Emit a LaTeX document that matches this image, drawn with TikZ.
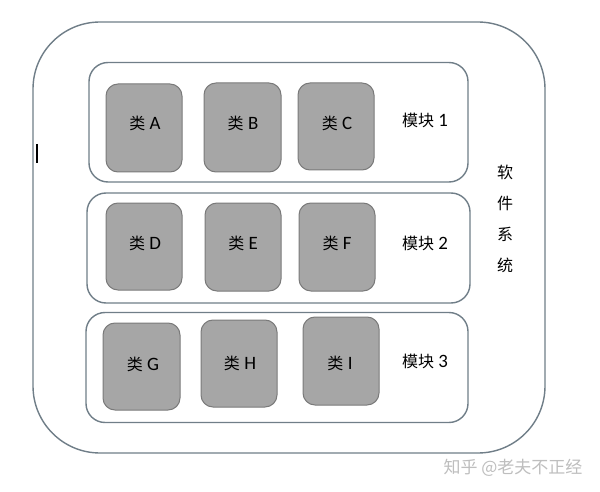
\documentclass[tikz,border=0pt]{standalone}
\usepackage{fontspec}
\setmainfont{Carlito}[Scale=1.18]
\newfontfamily\cjk{Noto Sans CJK SC}
\definecolor{edge}{RGB}{112,126,136}
\definecolor{clsfill}{RGB}{166,166,166}
\definecolor{clsedge}{RGB}{122,122,122}
\definecolor{wm}{RGB}{190,190,190}
\begin{document}
\begin{tikzpicture}[x=1pt,y=-1pt,
  outerbox/.style={draw=edge,line width=1.4pt,rounded corners=67pt,inner sep=0pt},
  modbox/.style={draw=edge,line width=1.4pt,rounded corners=19pt,inner sep=0pt},
  clsbox/.style={draw=clsedge,fill=clsfill,line width=1pt,rounded corners=12pt,inner sep=0pt,minimum width=76pt,minimum height=88pt},
  lbl/.style={font=\fontsize{16}{19}\selectfont,inner sep=0pt,text=black},
]
\useasboundingbox (0,0) rectangle (600,492);
\fill[white] (0,0) rectangle (600,492);
% outer software system
\node[outerbox,minimum width=512pt,minimum height=431pt] (sys) at (289,237.5) {};
% modules
\node[modbox,minimum width=379pt,minimum height=119.5pt] (m1) at (278.5,122.25) {};
\node[modbox,minimum width=383pt,minimum height=110pt] (m2) at (278.5,248) {};
\node[modbox,minimum width=382pt,minimum height=110pt] (m3) at (277,367.5) {};
% classes
\node[clsbox] (A) at (144,128) {};
\node[clsbox,minimum width=77pt,minimum height=89pt] (B) at (242.5,127.5) {};
\node[clsbox,minimum height=87pt] (C) at (336,126.5) {};
\node[clsbox,minimum height=87pt] (D) at (144,246.5) {};
\node[clsbox] (E) at (243,247) {};
\node[clsbox] (F) at (337,247) {};
\node[clsbox,minimum width=77pt,minimum height=87pt] (G) at (141.5,366.5) {};
\node[clsbox,minimum height=87pt] (H) at (239,363.5) {};
\node[clsbox] (I) at (341,361) {};
% class labels
\node[lbl] (tA) at (145,123) {{\cjk 类} A};
\node[lbl] (tB) at (243,123) {{\cjk 类} B};
\node[lbl] (tC) at (337,123) {{\cjk 类} C};
\node[lbl] (tD) at (145,243) {{\cjk 类} D};
\node[lbl] (tE) at (243,243) {{\cjk 类} E};
\node[lbl] (tF) at (337,243) {{\cjk 类} F};
\node[lbl] (tG) at (143,364) {{\cjk 类} G};
\node[lbl] (tH) at (240,363) {{\cjk 类} H};
\node[lbl] (tI) at (340,363) {{\cjk 类} I};
% module labels
\node[lbl] (l1) at (425,120) {{\cjk 模块} 1};
\node[lbl] (l2) at (425,243) {{\cjk 模块} 2};
\node[lbl] (l3) at (425,361) {{\cjk 模块} 3};
% system label
\node[lbl,align=center,font=\cjk\fontsize{16}{31}\selectfont] (sl) at (505,218.5) {软\\件\\系\\统};
% stray cursor mark
\coordinate (c1) at (37,144);
\coordinate (c2) at (37,163);
\draw[black,line width=1.6pt] (c1) -- (c2);
% watermark
\node[inner sep=0pt,text=wm,font=\cjk\fontsize{17}{20}\selectfont] (wmk) at (513,468) {知乎 @老夫不正经};
\end{tikzpicture}
\end{document}
